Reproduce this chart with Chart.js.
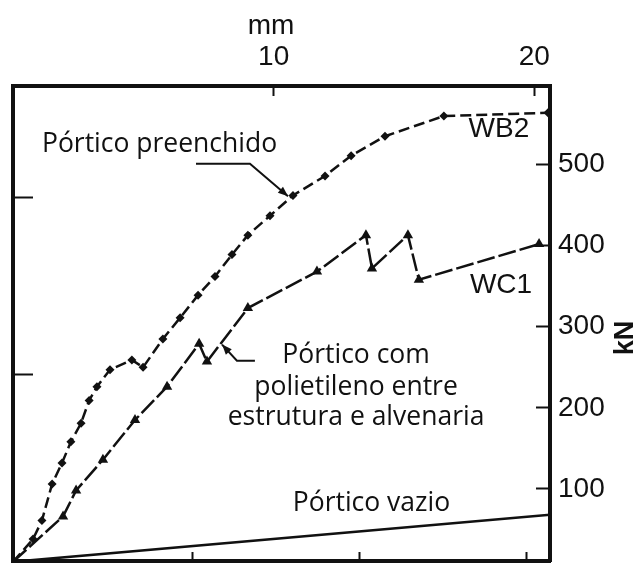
<!DOCTYPE html>
<html>
<head>
<meta charset="utf-8">
<script src="https://cdn.jsdelivr.net/npm/chart.js@4"></script>
<style>
  body { margin: 0; background: #fff; }
  canvas { display: block; }
</style>
</head>
<body>
<canvas id="chart" width="641" height="567"></canvas>
<script>
// Deslocamento (mm) x carga (kN)
const wb2X = [0, 0.77, 1.11, 1.50, 1.88, 2.22, 2.61, 2.92, 3.22, 3.72, 4.56, 4.99, 5.75, 6.41, 7.10, 7.75, 8.40, 9.01, 9.86, 10.74, 11.97, 12.97, 14.27, 16.53, 20.52];
const wb2Y = [10, 38, 61, 106, 132, 158, 181, 209, 226, 247, 259, 250, 285, 311, 339, 362, 389, 413, 437, 462, 486, 511, 535, 560, 564];

const wc1X = [0, 1.92, 2.42, 3.45, 4.68, 5.91, 7.14, 7.44, 9.01, 11.66, 13.54, 13.77, 15.15, 15.57, 20.18];
const wc1Y = [10, 66, 98, 136, 185, 226, 279, 257, 323, 368, 413, 372, 413, 358, 402];

const vazioX = [0, 20.6];
const vazioY = [10, 68];

const topTicks = [10, 20];          // mm
const rightTicks = [100, 200, 300, 400, 500]; // kN
const leftTicks = [241, 459];       // marcas sem rótulo
const bottomTicks = [6.9, 13.3, 19.7];

const pts = (xs, ys) => xs.map((v, i) => ({ x: v, y: ys[i] }));
const setTicks = list => scale => { scale.ticks = list.map(v => ({ value: v })); };
// fixed box size, no extra label padding
const fitBox = (w, h) => s => {
    if (w !== null) s.width = w;
    if (h !== null) s.height = h;
    s.paddingTop = s.paddingBottom = s.paddingLeft = s.paddingRight = 0;
};

const X_MIN = 0, X_MAX = 20.6, Y_MIN = 11, Y_MAX = 597;
const NUM_FONT = '"Liberation Sans", Arial, sans-serif';

const notes = {
    id: 'notes',
    afterDatasetsDraw(chart) {
        const { ctx, chartArea } = chart;
        const x = chart.scales.x, y = chart.scales.y;
        const px = v => x.getPixelForValue(v), py = v => y.getPixelForValue(v);

        ctx.save();
        ctx.fillStyle = '#111';
        ctx.strokeStyle = '#111';

        // series names
        ctx.font = '28px ' + NUM_FONT;
        ctx.textAlign = 'center';
        ctx.textBaseline = 'middle';
        ctx.fillText('WB2', px(18.64), py(543));
        ctx.fillText('WC1', px(18.72), py(351));

        // axis titles
        ctx.fillText('mm', px(9.9), chartArea.top - 60);
        ctx.save();
        ctx.translate(chartArea.right + 76, py(286));
        ctx.rotate(-Math.PI / 2);
        ctx.font = 'bold 27px ' + NUM_FONT;
        ctx.fillText('kN', 0, 0);
        ctx.restore();

        // annotations
        ctx.font = '26.5px "Open Sans", sans-serif';
        ctx.textAlign = 'left';
        ctx.fillText('Pórtico preenchido', px(1.11), py(525));
        ctx.textAlign = 'center';
        ctx.fillText('Pórtico com', px(13.16), py(264));
        ctx.fillText('polietileno entre', px(13.16), py(225));
        ctx.fillText('estrutura e alvenaria', px(13.16), py(188));
        ctx.fillText('Pórtico vazio', px(13.75), py(82));

        // leader lines with arrows
        const leader = (path) => {
            ctx.lineWidth = 2;
            ctx.beginPath();
            path.forEach(([a, b], i) => i ? ctx.lineTo(px(a), py(b)) : ctx.moveTo(px(a), py(b)));
            ctx.stroke();
            const [a1, b1] = path[path.length - 2], [a2, b2] = path[path.length - 1];
            const x1 = px(a1), y1 = py(b1), x2 = px(a2), y2 = py(b2);
            const ang = Math.atan2(y2 - y1, x2 - x1);
            ctx.beginPath();
            ctx.moveTo(x2, y2);
            ctx.lineTo(x2 - 10 * Math.cos(ang) + 4 * Math.sin(ang), y2 - 10 * Math.sin(ang) - 4 * Math.cos(ang));
            ctx.lineTo(x2 - 10 * Math.cos(ang) - 4 * Math.sin(ang), y2 - 10 * Math.sin(ang) + 4 * Math.cos(ang));
            ctx.closePath();
            ctx.fill();
        };
        leader([[7.02, 501], [9.09, 501], [10.55, 461]]);
        leader([[9.28, 258], [8.59, 258], [8.02, 278]]);

        ctx.restore();
    }
};

new Chart(document.getElementById('chart'), {
    type: 'scatter',
    data: {
        datasets: [
            {
                label: 'WB2',
                data: pts(wb2X, wb2Y),
                showLine: true,
                borderColor: '#111',
                backgroundColor: '#111',
                borderWidth: 2.5,
                borderDash: [11, 5],
                pointStyle: 'rectRot',
                pointRadius: wb2X.map((v, i) => i === 0 ? 0 : 4.5),
                pointBorderWidth: 0
            },
            {
                label: 'WC1',
                data: pts(wc1X, wc1Y),
                showLine: true,
                borderColor: '#111',
                backgroundColor: '#111',
                borderWidth: 2.5,
                borderDash: [18, 4],
                pointStyle: 'triangle',
                pointRadius: wc1X.map((v, i) => i === 0 ? 0 : 6),
                pointBorderWidth: 0
            },
            {
                label: 'Pórtico vazio',
                data: pts(vazioX, vazioY),
                showLine: true,
                borderColor: '#111',
                borderWidth: 2.5,
                pointRadius: 0
            }
        ]
    },
    options: {
        responsive: false,
        animation: false,
        devicePixelRatio: 1,
        layout: { padding: 0 },
        plugins: { legend: { display: false }, tooltip: { enabled: false } },
        scales: {
            x: {
                type: 'linear', position: 'top', min: X_MIN, max: X_MAX,
                afterBuildTicks: setTicks(topTicks),
                afterFit: fitBox(null, 86),
                grid: { drawOnChartArea: false, tickLength: -10, tickWidth: 2, color: '#111' },
                border: { color: '#111', width: 4 },
                ticks: { padding: 22, color: '#111', font: { family: NUM_FONT, size: 28 } }
            },
            y: {
                type: 'linear', position: 'right', min: Y_MIN, max: Y_MAX,
                afterBuildTicks: setTicks(rightTicks),
                afterFit: fitBox(91, null),
                grid: { drawOnChartArea: false, tickLength: -14, tickWidth: 2, color: '#111' },
                border: { color: '#111', width: 4 },
                ticks: { padding: 22, color: '#111', font: { family: NUM_FONT, size: 28 } }
            },
            yLeft: {
                type: 'linear', position: 'left', min: Y_MIN, max: Y_MAX,
                afterBuildTicks: setTicks(leftTicks),
                afterFit: fitBox(13, null),
                grid: { drawOnChartArea: false, tickLength: -20, tickWidth: 2, color: '#111' },
                border: { color: '#111', width: 4 },
                ticks: { display: false }
            },
            xBottom: {
                type: 'linear', position: 'bottom', min: X_MIN, max: X_MAX,
                afterBuildTicks: setTicks(bottomTicks),
                afterFit: fitBox(null, 2),
                grid: { drawOnChartArea: false, tickLength: -9, tickWidth: 2, color: '#111' },
                border: { color: '#111', width: 4 },
                ticks: { display: false }
            }
        }
    },
    plugins: [notes]
});
</script>
</body>
</html>
